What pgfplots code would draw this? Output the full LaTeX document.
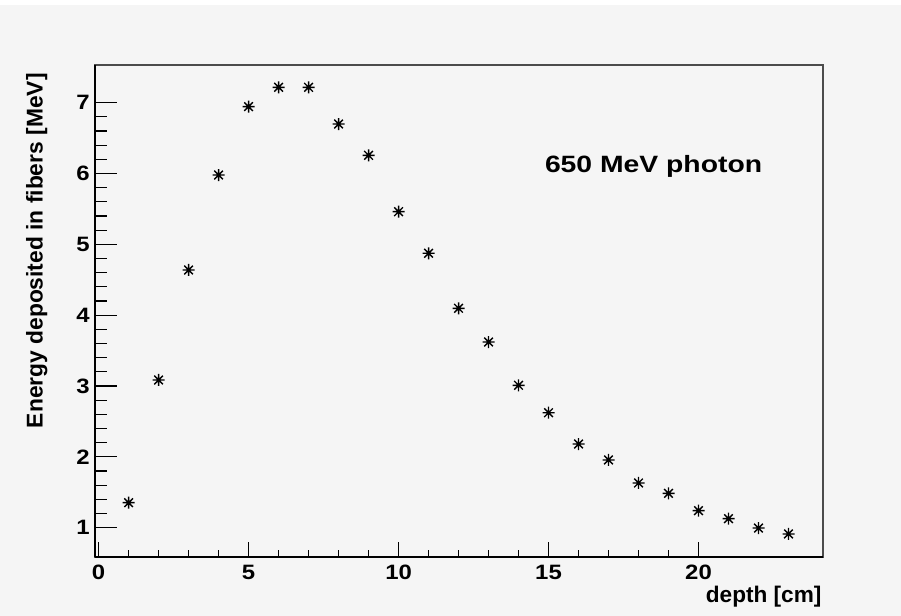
\documentclass[border=0pt]{standalone}
\usepackage{fontspec}
\setmainfont{Liberation Sans}
\newfontfamily\widefont{Liberation Sans}[FakeStretch=1.15]
\newfontfamily\annfont{Liberation Sans}[FakeStretch=1.2]
\usepackage{pgfplots}
\pgfplotsset{compat=1.18}
\definecolor{bg}{HTML}{F5F5F5}
\pgfdeclareplotmark{rootstar}{%
  \pgfpathmoveto{\pgfqpoint{-\pgfplotmarksize}{0pt}}%
  \pgfpathlineto{\pgfqpoint{\pgfplotmarksize}{0pt}}%
  \pgfpathmoveto{\pgfqpoint{0pt}{-\pgfplotmarksize}}%
  \pgfpathlineto{\pgfqpoint{0pt}{\pgfplotmarksize}}%
  \pgfpathmoveto{\pgfpoint{-0.72\pgfplotmarksize}{-0.72\pgfplotmarksize}}%
  \pgfpathlineto{\pgfpoint{0.72\pgfplotmarksize}{0.72\pgfplotmarksize}}%
  \pgfpathmoveto{\pgfpoint{-0.72\pgfplotmarksize}{0.72\pgfplotmarksize}}%
  \pgfpathlineto{\pgfpoint{0.72\pgfplotmarksize}{-0.72\pgfplotmarksize}}%
  \pgfusepathqstroke
  \pgfpathcircle{\pgfpointorigin}{0.3\pgfplotmarksize}%
  \pgfusepathqfill
}
\begin{document}
\begin{tikzpicture}
\fill[bg] (0,0) rectangle (450.5pt,308pt);
\fill[white] (0,305.5pt) rectangle (450.5pt,308pt);
\path[use as bounding box] (0,0) rectangle (450.5pt,308pt);
\begin{axis}[
  at={(47.5pt,29.5pt)}, anchor=south west,
  scale only axis, width=364pt, height=246pt,
  xmin=-0.12, xmax=24.15, ymin=0.586, ymax=7.532,
  axis background/.style={fill=bg},
  axis line style={draw=black!70, line width=0.7pt},
  xtick={0,5,10,15,20}, ytick={1,2,3,4,5,6,7},
  minor x tick num=4, minor y tick num=4,
  tick align=inside, xtick pos=left, ytick pos=left,
  tick style={black, line width=0.6pt},
  xtick style={/pgfplots/major tick length=7.5pt,/pgfplots/minor tick length=3.7pt},
  ytick style={/pgfplots/major tick length=11pt,/pgfplots/minor tick length=5.8pt},
  /pgf/number format/assume math mode=true,
  xticklabel style={font=\widefont\bfseries\fontsize{10.4}{11}\selectfont, inner sep=0pt, anchor=north, yshift=-4pt},
  yticklabel style={font=\widefont\bfseries\fontsize{10.4}{11}\selectfont, inner sep=0pt, anchor=east, xshift=-2.5pt},
  clip=false,
]
\addplot[only marks, mark=rootstar, mark size=3pt, mark options={black, line width=0.7pt}] table {
x y
1 1.353
2 3.085
3 4.638
4 5.979
5 6.944
6 7.217
7 7.217
8 6.699
9 6.257
10 5.461
11 4.874
12 4.097
13 3.621
14 3.010
15 2.623
16 2.181
17 1.956
18 1.631
19 1.485
20 1.240
21 1.127
22 0.995
23 0.911
};
\draw[line width=1.3pt, black] (rel axis cs:0,0) -- (rel axis cs:0,1);
\draw[line width=1pt, black] (rel axis cs:0,0) -- (rel axis cs:1,0);
\end{axis}
\node[rotate=90, anchor=east, inner sep=0pt, font=\bfseries\fontsize{11.4}{12}\selectfont] at (18.4pt,271.5pt) {Energy deposited in fibers [MeV]};
\node[anchor=base east, inner sep=0pt, font=\bfseries\fontsize{11.3}{12}\selectfont] at (410.9pt,6.5pt) {depth [cm]};
\node[anchor=base west, inner sep=0pt, font=\annfont\bfseries\fontsize{11.8}{12}\selectfont] at (272.3pt,221.7pt) {650 MeV photon};
\end{tikzpicture}
\end{document}
